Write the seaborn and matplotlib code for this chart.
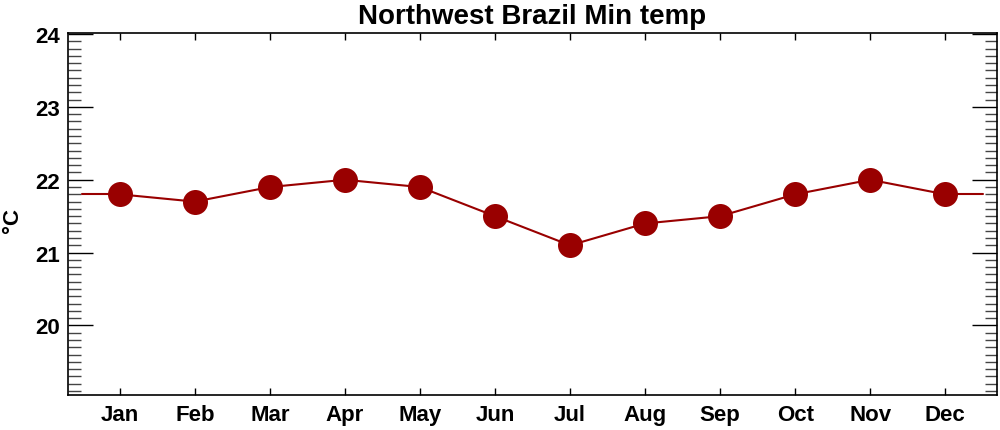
import numpy as np
import pandas as pd
import matplotlib
matplotlib.use("Agg")
import matplotlib.pyplot as plt
import seaborn as sns
from matplotlib.ticker import MultipleLocator

months = ["Jan", "Feb", "Mar", "Apr", "May", "Jun", "Jul", "Aug", "Sep", "Oct", "Nov", "Dec"]
min_temp = [21.8, 21.7, 21.9, 22.0, 21.9, 21.5, 21.1, 21.4, 21.5, 21.8, 22.0, 21.8]

sns.set_theme(style="ticks")
plt.rcParams['font.family'] = ['Liberation Sans', 'DejaVu Sans']
plt.rcParams['font.weight'] = 'bold'
plt.rcParams['text.color'] = 'black'
plt.rcParams['axes.labelcolor'] = 'black'
plt.rcParams['xtick.color'] = 'black'
plt.rcParams['ytick.color'] = 'black'

df = pd.DataFrame({"pos": np.arange(len(months)), "temp": min_temp})

# wrap the line half a month past each end (Dec -> Jan)
wrap = (min_temp[0] + min_temp[-1]) / 2
df_wrap = pd.DataFrame({"pos": [-0.5, 0, len(months) - 1, len(months) - 0.5],
                        "temp": [wrap, min_temp[0], min_temp[-1], wrap]})

fig = plt.figure(figsize=(10, 4.31), dpi=100)
ax = fig.add_axes([0.068, 0.082, 0.929, 0.840])

red = "#990000"
ax.plot(df_wrap["pos"][:2], df_wrap["temp"][:2], color=red, lw=1.5)
ax.plot(df_wrap["pos"][2:], df_wrap["temp"][2:], color=red, lw=1.5)
sns.lineplot(data=df, x="pos", y="temp", ax=ax, color=red, lw=1.5,
             marker="o", markersize=18, markeredgewidth=0, markerfacecolor=red)

ax.set_xlim(-0.69, 11.69)
ax.set_ylim(19.05, 24.02)
ax.set_xticks(range(len(months)))
ax.set_xticklabels(months)
ax.yaxis.set_major_locator(MultipleLocator(1))
ax.yaxis.set_minor_locator(MultipleLocator(0.1))
ax.set_yticks([20, 21, 22, 23, 24])

ax.tick_params(axis="y", which="major", direction="in", length=18, width=1,
               left=True, right=True, labelsize=16, pad=6, labelcolor="black")
ax.tick_params(axis="y", which="minor", direction="in", length=9, width=1,
               left=True, right=True, color="#444444")
ax.tick_params(axis="x", which="major", direction="in", length=5, width=1,
               bottom=True, top=True, labelsize=16, pad=7, labelcolor="black")

for s in ax.spines.values():
    s.set_visible(True)
    s.set_linewidth(1.2)
    s.set_color("black")

ax.set_xlabel("")
ax.set_ylabel("°C", fontsize=16, fontweight="bold")
ax.yaxis.set_label_coords(-0.048, 0.485)
ax.set_title("Northwest Brazil Min temp", fontsize=20, fontweight="bold", pad=7)

for lab in ax.get_xticklabels() + ax.get_yticklabels():
    lab.set_fontweight("bold")

fig.savefig("out.png", dpi=100)
